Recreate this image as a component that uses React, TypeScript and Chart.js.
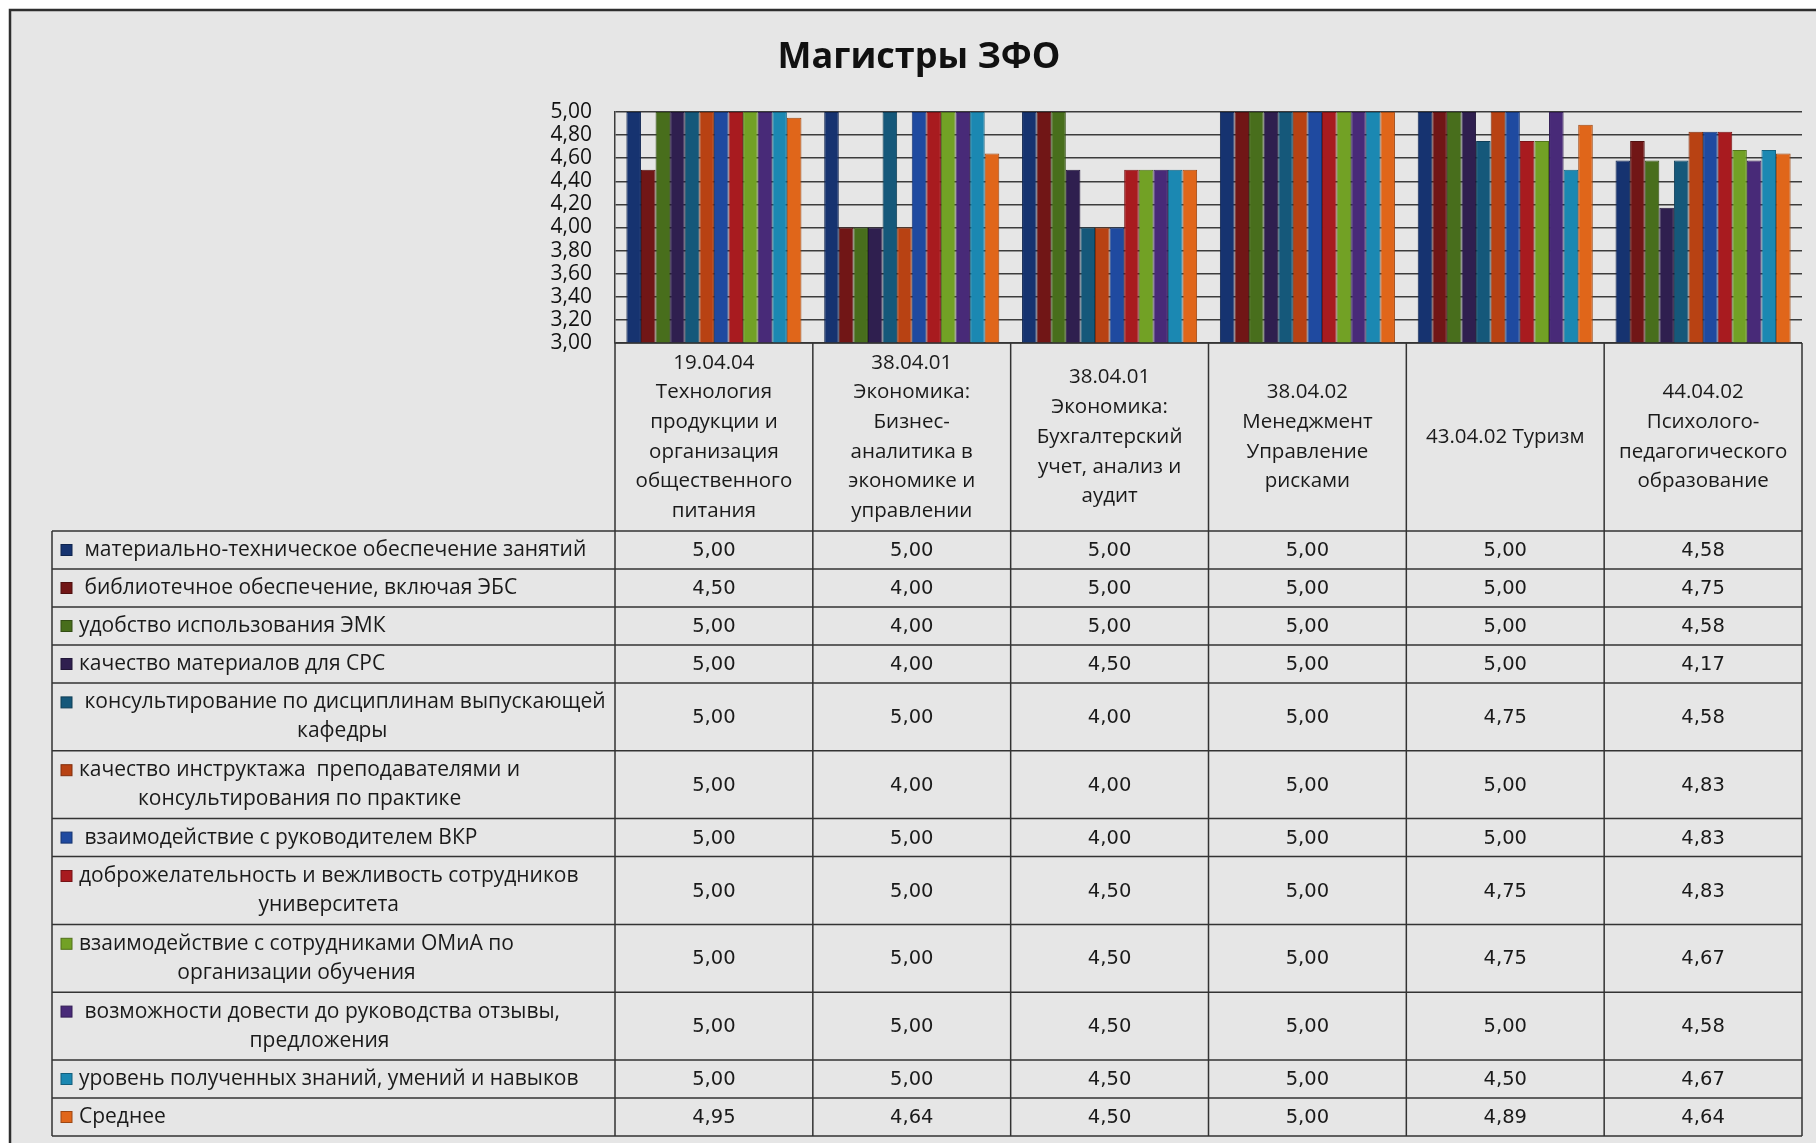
import { useEffect, useRef } from "react";
import { Chart, registerables } from "chart.js";

Chart.register(...registerables);

const TITLE = "Магистры ЗФО";

const categories: string[][] = [
  ["19.04.04", "Технология", "продукции и", "организация", "общественного", "питания"],
  ["38.04.01", "Экономика:", "Бизнес-", "аналитика в", "экономике и", "управлении"],
  ["38.04.01", "Экономика:", "Бухгалтерский", "учет, анализ и", "аудит"],
  ["38.04.02", "Менеджмент", "Управление", "рисками"],
  ["43.04.02 Туризм"],
  ["44.04.02", "Психолого-", "педагогического", "образование"],
];

const seriesLabels: string[][] = [
  [" материально-техническое обеспечение занятий"],
  [" библиотечное обеспечение, включая ЭБС"],
  ["удобство использования ЭМК"],
  ["качество материалов для СРС"],
  [" консультирование по дисциплинам выпускающей", "кафедры"],
  ["качество инструктажа  преподавателями и", "консультирования по практике"],
  [" взаимодействие с руководителем ВКР"],
  ["доброжелательность и вежливость сотрудников", "университета"],
  ["взаимодействие с сотрудниками ОМиА по", "организации обучения"],
  [" возможности довести до руководства отзывы,", "предложения"],
  ["уровень полученных знаний, умений и навыков"],
  ["Среднее"],
];

const seriesColors = [
  "#163370",
  "#711616",
  "#486e1c",
  "#2f1f4f",
  "#15587a",
  "#b84213",
  "#1f4aa0",
  "#a81b1f",
  "#72a125",
  "#482a78",
  "#1b88b2",
  "#e0661a",
];

const matTech = [5.0, 5.0, 5.0, 5.0, 5.0, 4.58];
const library = [4.5, 4.0, 5.0, 5.0, 5.0, 4.75];
const emk = [5.0, 4.0, 5.0, 5.0, 5.0, 4.58];
const srs = [5.0, 4.0, 4.5, 5.0, 5.0, 4.17];
const consult = [5.0, 5.0, 4.0, 5.0, 4.75, 4.58];
const instruct = [5.0, 4.0, 4.0, 5.0, 5.0, 4.83];
const vkr = [5.0, 5.0, 4.0, 5.0, 5.0, 4.83];
const politeness = [5.0, 5.0, 4.5, 5.0, 4.75, 4.83];
const omia = [5.0, 5.0, 4.5, 5.0, 4.75, 4.67];
const feedback = [5.0, 5.0, 4.5, 5.0, 5.0, 4.58];
const knowledge = [5.0, 5.0, 4.5, 5.0, 4.5, 4.67];
const average = [4.95, 4.64, 4.5, 5.0, 4.89, 4.64];

const seriesValues = [
  matTech, library, emk, srs, consult, instruct,
  vkr, politeness, omia, feedback, knowledge, average,
];

const Y_MIN = 3;
const Y_MAX = 5;
const Y_STEP = 0.2;

const fmt = (v: number) => v.toFixed(2).replace(".", ",");

function darken(hex: string, f: number) {
  const n = parseInt(hex.slice(1), 16);
  const r = Math.round(((n >> 16) & 255) * f);
  const g = Math.round(((n >> 8) & 255) * f);
  const b = Math.round((n & 255) * f);
  return `rgb(${r},${g},${b})`;
}

const W = 1816;
const H = 1143;
const LINE = "#333333";
const TEXT = "#1a1a1a";

const tablePlugin = {
  id: "tablePlugin",
  beforeDraw(chart: any) {
    const ctx = chart.ctx;
    ctx.save();
    ctx.fillStyle = "#ffffff";
    ctx.fillRect(0, 0, W, H);
    ctx.fillStyle = "#e6e6e6";
    ctx.fillRect(10, 10, W - 10, H - 10);
    ctx.strokeStyle = "#2e2e2e";
    ctx.lineWidth = 2.5;
    ctx.beginPath();
    ctx.moveTo(10, H);
    ctx.lineTo(10, 10);
    ctx.lineTo(W, 10);
    ctx.stroke();
    ctx.restore();
  },
  afterDraw(chart: any) {
    const ctx = chart.ctx;
    const ca = chart.chartArea;
    const n = categories.length;
    const colW = (ca.right - ca.left) / n;
    const colX = (i: number) => ca.left + i * colW;
    const headerTop = ca.bottom;
    const headerBottom = 531;
    const legendLeft = 52;
    const singleH = 38;
    const doubleH = 67.8;

    ctx.save();
    // title
    ctx.fillStyle = "#111";
    ctx.font = 'bold 36px "Open Sans"';
    ctx.textAlign = "center";
    ctx.textBaseline = "middle";
    ctx.fillText(TITLE, 919, 58);

    // rows
    const rowTops: number[] = [];
    let y = headerBottom;
    seriesLabels.forEach((lines) => {
      rowTops.push(y);
      y += lines.length > 1 ? doubleH : singleH;
    });
    const tableBottom = y;

    // lines
    ctx.strokeStyle = LINE;
    ctx.lineWidth = 1.5;
    ctx.beginPath();
    for (let i = 0; i <= n; i++) {
      const x = colX(i);
      ctx.moveTo(x, headerTop);
      ctx.lineTo(x, tableBottom);
    }
    ctx.moveTo(legendLeft, headerBottom);
    ctx.lineTo(legendLeft, tableBottom);
    ctx.moveTo(ca.left, headerTop);
    ctx.lineTo(ca.right, headerTop);
    rowTops.concat([tableBottom]).forEach((ry) => {
      ctx.moveTo(legendLeft, ry);
      ctx.lineTo(ca.right, ry);
    });
    ctx.stroke();

    // header labels
    ctx.fillStyle = TEXT;
    ctx.font = '20.5px "Open Sans"';
    ctx.textAlign = "center";
    ctx.textBaseline = "middle";
    const hc = (headerTop + headerBottom) / 2;
    const hLine = 29.7;
    categories.forEach((lines, i) => {
      const cx = colX(i) + colW / 2;
      const start = hc - ((lines.length - 1) * hLine) / 2;
      lines.forEach((ln, k) => ctx.fillText(ln, cx, start + k * hLine));
    });

    // legend cells + values
    const lLine = 29;
    seriesLabels.forEach((lines, s) => {
      const top = rowTops[s];
      const h = lines.length > 1 ? doubleH : singleH;
      const cy = top + h / 2;
      const firstY = cy - ((lines.length - 1) * lLine) / 2;
      // key
      ctx.fillStyle = seriesColors[s];
      ctx.fillRect(61, firstY - 5.5, 11, 11);
      ctx.strokeStyle = darken(seriesColors[s], 0.7);
      ctx.lineWidth = 1;
      ctx.strokeRect(61, firstY - 5.5, 11, 11);
      // text
      ctx.fillStyle = TEXT;
      ctx.font = '21px "Open Sans"';
      ctx.textBaseline = "middle";
      ctx.textAlign = "center";
      const x0 = 79;
      const bw = Math.max(...lines.map((l) => ctx.measureText(l).width));
      lines.forEach((ln, k) => ctx.fillText(ln, x0 + bw / 2, firstY + k * lLine));
      // values
      ctx.font = '19.5px "DejaVu Sans"';
      seriesValues[s].forEach((v, i) => {
        ctx.fillText(fmt(v), colX(i) + colW / 2, cy + 1);
      });
    });
    ctx.restore();
  },
};

export default function App() {
  const ref = useRef<HTMLCanvasElement | null>(null);

  useEffect(() => {
    if (!ref.current) return;
    const chart = new Chart(ref.current, {
      type: "bar",
      data: {
        labels: categories,
        datasets: seriesValues.map((vals, s) => ({
          label: seriesLabels[s].join(" ").trim(),
          data: vals,
          backgroundColor: seriesColors[s],
          borderColor: darken(seriesColors[s], 0.72),
          borderWidth: 1,
          borderSkipped: "bottom",
          categoryPercentage: 0.885,
          barPercentage: 1.0,
        })),
      },
      options: {
        responsive: false,
        animation: false,
        devicePixelRatio: 1,
        layout: { padding: { left: 0, top: 112, right: 14, bottom: 800 } },
        plugins: {
          legend: { display: false },
          title: { display: false },
          tooltip: { enabled: false },
        },
        scales: {
          x: {
            display: false,
          },
          y: {
            min: Y_MIN,
            max: Y_MAX,
            ticks: {
              stepSize: Y_STEP,
              autoSkip: false,
              padding: 23,
              color: "#111",
              font: { family: "Open Sans", size: 21 },
              callback: (v: any) => fmt(Number(v)),
            },
            grid: {
              color: "#3c3c3c",
              lineWidth: 1.5,
              drawTicks: false,
            },
            border: { display: true, color: "#3c3c3c", width: 1.5 },
            afterFit: (scale: any) => {
              scale.width = 615;
            },
          },
        },
      },
      plugins: [tablePlugin],
    });
    return () => chart.destroy();
  }, []);

  return (
    <div style={{ position: "absolute", left: 0, top: 0, width: W, height: H }}>
      <canvas ref={ref} width={W} height={H} style={{ display: "block", width: W, height: H }} />
    </div>
  );
}
